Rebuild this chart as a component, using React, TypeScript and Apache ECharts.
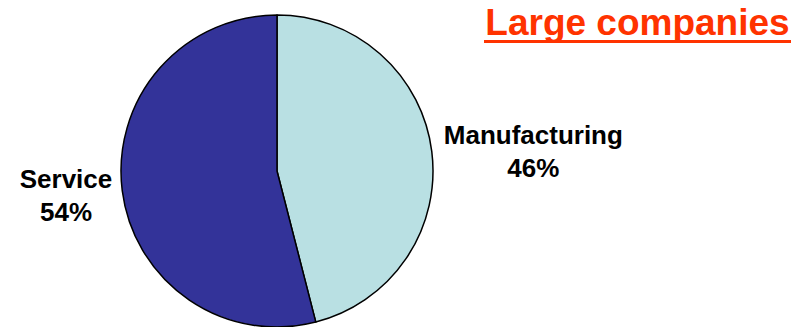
import React, { useEffect, useRef } from "react";
import * as echarts from "echarts";

const categories = ["Manufacturing", "Service"];
const values = [46, 54];
const colors = ["#B9E0E3", "#333399"];
const titleText = "Large companies";

export default function App() {
  const ref = useRef<HTMLDivElement>(null);
  useEffect(() => {
    document.body.style.margin = "0";
    const chart = echarts.init(ref.current!, null, { renderer: "svg" });
    chart.setOption({
      animation: false,
      backgroundColor: "#ffffff",
      graphic: [
        {
          type: "text",
          x: 637.5,
          y: 22.5,
          style: {
            text: titleText,
            fill: "#FF3300",
            font: "bold 37px 'Liberation Sans', Arial, sans-serif",
            textAlign: "center",
            textVerticalAlign: "middle",
          },
        },
        {
          type: "rect",
          shape: { x: 484, y: 40, width: 307, height: 3 },
          style: { fill: "#FF3300" },
        },
      ],
      series: [
        {
          type: "pie",
          center: [277, 171],
          radius: 156,
          startAngle: 90,
          clockwise: true,
          data: categories.map((name, i) => ({
            name,
            value: values[i],
            itemStyle: { color: colors[i] },
          })),
          itemStyle: { borderColor: "#000000", borderWidth: 1.5 },
          label: {
            show: true,
            position: "outside",
            formatter: "{b}\n{d}%",
            color: "#000000",
            fontFamily: "'Liberation Sans', Arial, sans-serif",
            fontWeight: "bold",
            fontSize: 26,
            lineHeight: 33,
          },
          labelLine: { show: false, length: 2, length2: 0 },
          labelLayout: (p: any) => {
            const left = p.labelRect.x < 277;
            return {
              x: p.labelRect.x + p.labelRect.width / 2 + (left ? -3 : 5),
              y: p.labelRect.y + p.labelRect.height / 2 + (left ? 5 : 0),
              align: "center",
              verticalAlign: "middle",
            };
          },
          emphasis: { disabled: true },
        },
      ],
    });
    return () => chart.dispose();
  }, []);
  return <div ref={ref} style={{ width: 805, height: 327 }} />;
}
